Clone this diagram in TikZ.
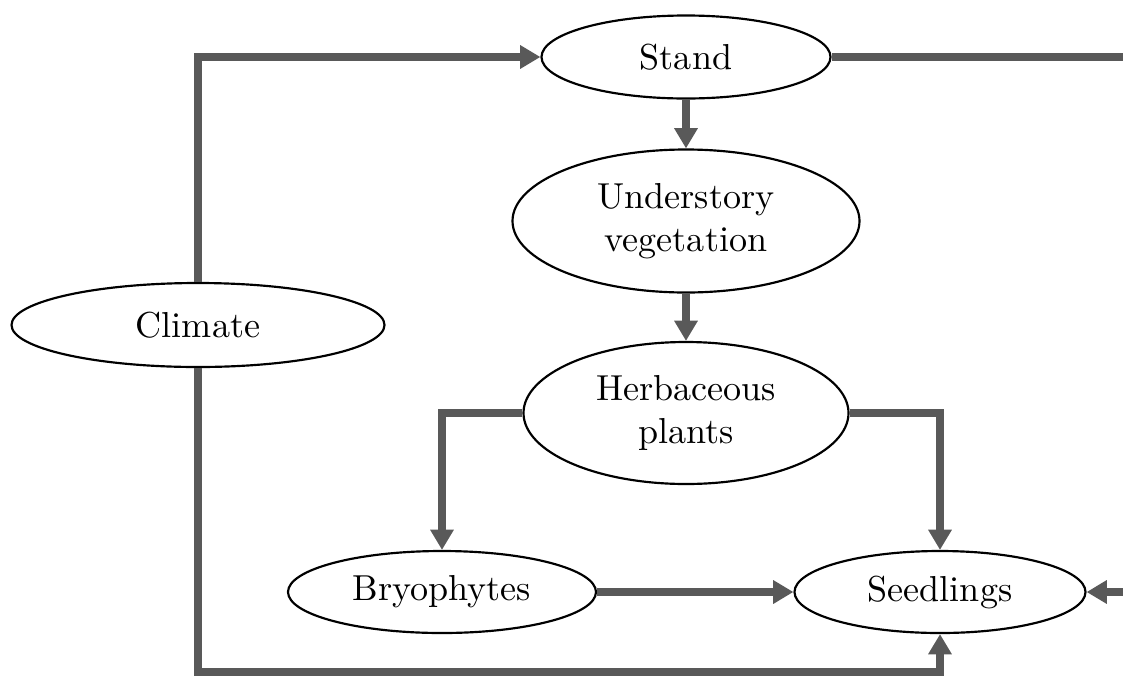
\documentclass[tikz,border=0pt]{standalone}
\usetikzlibrary{shapes.geometric,arrows.meta}
\begin{document}
\begin{tikzpicture}[x=0.277pt,y=-0.277pt,
  ell/.style 2 args={draw=black,line width=0.6pt,ellipse,inner sep=0pt,align=center,font=\normalsize,
    minimum width={#1*0.277pt},minimum height={#2*0.277pt}},
  conn/.style={draw=black!65,line width=1.95pt},
  arr/.style={conn,-{Triangle[length=5.6pt,width=6.2pt]}}]
\useasboundingbox (0,0) rectangle (1123,678);
\node[ell={289}{83}] (stand) at (686,57) {Stand};
\node[ell={347}{143}] (under) at (686,221) {Understory\\vegetation};
\node[ell={373}{84}] (climate) at (198,325) {Climate};
\node[ell={325}{142}] (herb) at (686,413) {Herbaceous\\plants};
\node[ell={308}{82}] (bryo) at (442,592) {Bryophytes};
\node[ell={291}{82}] (seed) at (940,592) {Seedlings};
\coordinate (rtop) at (1126,57);
\coordinate (rbot) at (1126,592);
\coordinate (cornertl) at (198,57);
\coordinate (cornerbl) at (198,672);
\coordinate (cornerbr) at (940,672);
\coordinate (hl) at (442,413);
\coordinate (hr) at (940,413);
\draw[arr] (climate.north) -- (cornertl) -- (stand.west);
\draw[conn] (stand.east) -- (rtop);
\draw[arr] (rbot) -- (seed.east);
\draw[arr] (stand.south) -- (under.north);
\draw[arr] (under.south) -- (herb.north);
\draw[arr] (herb.west) -- (hl) -- (bryo.north);
\draw[arr] (herb.east) -- (hr) -- (seed.north);
\draw[arr] (bryo.east) -- (seed.west);
\draw[arr] (climate.south) -- (cornerbl) -- (cornerbr) -- (seed.south);
\end{tikzpicture}
\end{document}
